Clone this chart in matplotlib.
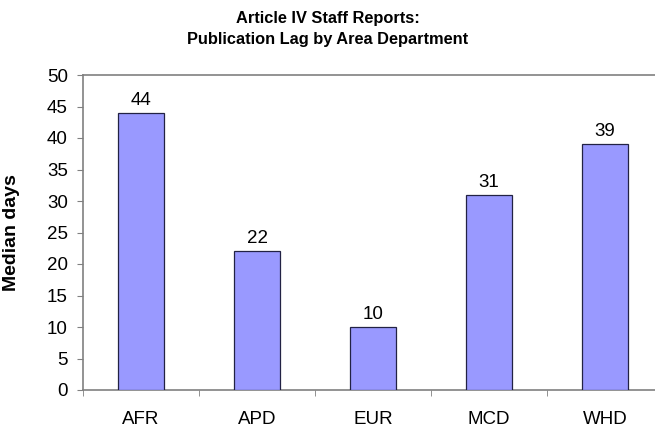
import matplotlib
matplotlib.use("Agg")
import matplotlib.pyplot as plt
import numpy as np

plt.rcParams['font.family'] = ['Liberation Sans', 'DejaVu Sans']

categories = ["AFR", "APD", "EUR", "MCD", "WHD"]
values = [44, 22, 10, 31, 39]

fig = plt.figure(figsize=(6.55, 4.29), dpi=100)
ax = fig.add_axes([83/655, 1-390/429, 580/655, 315/429])

x = np.arange(len(categories))
ax.bar(x, values, width=0.4, color="#9999FF", edgecolor="#222244", linewidth=0.9, zorder=3)
for xi, v in zip(x, values):
    ax.annotate(str(v), (xi, v), xytext=(0, 3), textcoords="offset points",
                ha="center", va="bottom", fontsize=13.5)

ax.set_xlim(-0.5, len(categories) - 0.5)
ax.set_ylim(0, 50)
ax.set_yticks(range(0, 51, 5))
ax.tick_params(axis="y", labelsize=13.5, length=4, color="#808080", direction="out", pad=7)
ax.set_xticks(x)
ax.set_xticklabels(categories, fontsize=13.5)
ax.tick_params(axis="x", length=0, pad=15)
ax.set_xticks(np.arange(-0.5, len(categories), 1), minor=True)
ax.tick_params(axis="x", which="minor", length=4, color="#808080", direction="out")

for s in ["left", "bottom", "top"]:
    ax.spines[s].set_color("#808080")
    ax.spines[s].set_linewidth(1.2)
ax.spines["right"].set_visible(False)

ax.set_ylabel("Median days", fontsize=14, fontweight="bold")
ax.yaxis.set_label_coords(-63/580, 0.5)

fig.text(0.5, 0.975, "Article IV Staff Reports:\nPublication Lag by Area Department",
         ha="center", va="top", fontsize=11.8, fontweight="bold", linespacing=1.5)

fig.savefig("out.png", dpi=100)
